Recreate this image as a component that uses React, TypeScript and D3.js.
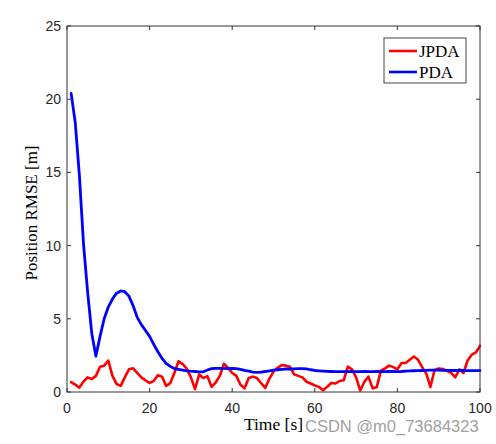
import React from "react";
import * as d3 from "d3";

const timeSteps: number[] = Array.from({ length: 100 }, (_, i) => i + 1);

const jpdaRmse: number[] = [
  0.68, 0.5, 0.3, 0.72, 1.0, 0.88, 1.1, 1.72, 1.8, 2.15,
  1.1, 0.55, 0.42, 1.0, 1.55, 1.62, 1.3, 1.0, 0.8, 0.62,
  0.75, 1.15, 1.05, 0.42, 0.6, 1.3, 2.1, 1.9, 1.6, 1.0,
  0.2, 1.2, 0.95, 1.08, 0.36, 0.65, 1.1, 1.93, 1.65, 1.3,
  1.1, 0.5, 0.25, 0.95, 1.05, 0.95, 0.6, 0.28, 0.9, 1.4,
  1.65, 1.84, 1.8, 1.72, 1.2, 1.1, 1.0, 0.7, 0.58, 0.45,
  0.35, 0.12, 0.36, 0.62, 0.58, 0.75, 0.8, 1.73, 1.55, 1.0,
  0.1, 0.7, 1.05, 0.25, 0.33, 1.46, 1.62, 1.8, 1.7, 1.55,
  1.98, 1.98, 2.2, 2.42, 2.2, 1.7, 1.25, 0.34, 1.5, 1.6,
  1.57, 1.45, 1.3, 1.0, 1.55, 1.3, 2.15, 2.55, 2.7, 3.15,
];

const pdaRmse: number[] = [
  20.4, 18.4, 14.8, 10.1, 6.8, 4.0, 2.45, 3.8, 5.0, 5.8,
  6.35, 6.75, 6.9, 6.85, 6.55, 5.9, 5.1, 4.6, 4.2, 3.8,
  3.25, 2.75, 2.3, 1.95, 1.75, 1.6, 1.55, 1.5, 1.45, 1.42,
  1.4, 1.38, 1.38, 1.5, 1.6, 1.62, 1.62, 1.62, 1.6, 1.62,
  1.6, 1.55, 1.48, 1.42, 1.36, 1.34, 1.36, 1.4, 1.45, 1.5,
  1.52, 1.55, 1.57, 1.57, 1.58, 1.6, 1.6, 1.58, 1.52, 1.47,
  1.45, 1.43, 1.41, 1.4, 1.39, 1.39, 1.39, 1.39, 1.4, 1.39,
  1.39, 1.4, 1.39, 1.39, 1.4, 1.39, 1.39, 1.4, 1.4, 1.39,
  1.4, 1.42, 1.44, 1.45, 1.46, 1.47, 1.48, 1.5, 1.5, 1.49,
  1.48, 1.48, 1.47, 1.47, 1.48, 1.47, 1.46, 1.46, 1.46, 1.46,
];

const xTicks: number[] = [0, 20, 40, 60, 80, 100];
const yTicks: number[] = [0, 5, 10, 15, 20, 25];
const seriesNames: string[] = ["JPDA", "PDA"];
const seriesColors: string[] = ["#ff0000", "#0000ff"];

export default function App() {
  const W = 496;
  const H = 444;
  const left = 67;
  const right = 480;
  const top = 26;
  const bottom = 392;

  const x = d3.scaleLinear().domain([0, 100]).range([left, right]);
  const y = d3.scaleLinear().domain([0, 25]).range([bottom, top]);

  const line = d3
    .line<number>()
    .x((_, i) => x(timeSteps[i]))
    .y((d) => y(d));

  const axisColor = "#333333";
  const tickColor = "#262626";
  const tickLen = 4;

  return (
    <svg
      width={W}
      height={H}
      style={{ position: "absolute", left: 0, top: 0, background: "#ffffff" }}
    >
      <rect x={0} y={0} width={W} height={H} fill="#ffffff" />
      {/* data */}
      <path
        d={line(jpdaRmse) || ""}
        fill="none"
        stroke={seriesColors[0]}
        strokeWidth={2.6}
        strokeLinejoin="round"
        strokeLinecap="round"
      />
      <path
        d={line(pdaRmse) || ""}
        fill="none"
        stroke={seriesColors[1]}
        strokeWidth={2.8}
        strokeLinejoin="round"
        strokeLinecap="round"
      />
      {/* box */}
      <rect
        x={left}
        y={top}
        width={right - left}
        height={bottom - top}
        fill="none"
        stroke={axisColor}
        strokeWidth={1}
      />
      {/* x ticks */}
      {xTicks.map((t) => (
        <g key={"x" + t}>
          <line x1={x(t)} x2={x(t)} y1={bottom} y2={bottom - tickLen} stroke={axisColor} />
          <line x1={x(t)} x2={x(t)} y1={top} y2={top + tickLen} stroke={axisColor} />
          <text
            x={x(t)}
            y={bottom + 21}
            textAnchor="middle"
            fontFamily="'Liberation Sans', Arial, sans-serif"
            fontSize={14}
            fill={tickColor}
          >
            {t}
          </text>
        </g>
      ))}
      {/* y ticks */}
      {yTicks.map((t) => (
        <g key={"y" + t}>
          <line x1={left} x2={left + tickLen} y1={y(t)} y2={y(t)} stroke={axisColor} />
          <line x1={right} x2={right - tickLen} y1={y(t)} y2={y(t)} stroke={axisColor} />
          <text
            x={left - 6}
            y={y(t) + 5}
            textAnchor="end"
            fontFamily="'Liberation Sans', Arial, sans-serif"
            fontSize={14}
            fill={tickColor}
          >
            {t}
          </text>
        </g>
      ))}
      {/* axis labels */}
      <text
        x={(left + right) / 2}
        y={430}
        textAnchor="middle"
        fontFamily="'Liberation Serif', 'Times New Roman', serif"
        fontSize={17.5}
        fill="#000"
      >
        Time [s]
      </text>
      <text
        transform={`translate(37, ${(top + bottom) / 2 + 4}) rotate(-90)`}
        textAnchor="middle"
        fontFamily="'Liberation Serif', 'Times New Roman', serif"
        fontSize={17}
        fill="#000"
      >
        Position RMSE [m]
      </text>
      {/* legend */}
      <rect x={384} y={38} width={82} height={45} fill="#ffffff" stroke={axisColor} strokeWidth={0.9} />
      {seriesNames.map((name, i) => (
        <g key={name}>
          <line
            x1={389}
            x2={417}
            y1={51 + i * 21}
            y2={51 + i * 21}
            stroke={seriesColors[i]}
            strokeWidth={2.6}
          />
          <text
            x={419}
            y={57 + i * 21}
            fontFamily="'Liberation Serif', 'Times New Roman', serif"
            fontSize={17}
            fill="#000"
          >
            {name}
          </text>
        </g>
      ))}
      {/* watermark */}
      <text
        x={305}
        y={432}
        fontFamily="'Liberation Sans', Arial, sans-serif"
        fontSize={16.5}
        fill="#a0a0a0"
      >
        CSDN @m0_73684323
      </text>
    </svg>
  );
}
